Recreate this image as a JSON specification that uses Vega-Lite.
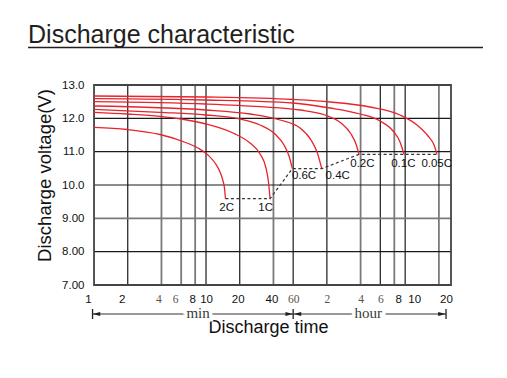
{
  "$schema": "https://vega.github.io/schema/vega-lite/v6.json",
  "width": 507,
  "height": 378,
  "autosize": {"type": "none"},
  "padding": 0,
  "background": "white",
  "config": {"view": {"stroke": null}, "font": "Liberation Sans"},
  "datasets": {
    "xgrid": [{"t": 2}, {"t": 4}, {"t": 6}, {"t": 8}, {"t": 10}, {"t": 20}, {"t": 40}, {"t": 60}, {"t": 120}, {"t": 240}, {"t": 360}, {"t": 480}, {"t": 600}, {"t": 1200}],
    "ygrid": [{"v": 8}, {"v": 9}, {"v": 10}, {"v": 11}, {"v": 12}],
    "curves": [
      {"rate": "2C", "t": 1, "v": 11.73}, {"rate": "2C", "t": 1.97, "v": 11.665}, {"rate": "2C", "t": 3.88, "v": 11.515}, {"rate": "2C", "t": 6.23, "v": 11.305}, {"rate": "2C", "t": 8.48, "v": 11.11}, {"rate": "2C", "t": 10.42, "v": 10.9}, {"rate": "2C", "t": 12.03, "v": 10.66}, {"rate": "2C", "t": 13.34, "v": 10.39}, {"rate": "2C", "t": 14.18, "v": 10.12}, {"rate": "2C", "t": 14.69, "v": 9.85}, {"rate": "2C", "t": 14.9, "v": 9.59},
      {"rate": "1C", "t": 1, "v": 12.18}, {"rate": "1C", "t": 1.97, "v": 12.13}, {"rate": "1C", "t": 3.88, "v": 12.06}, {"rate": "1C", "t": 5.98, "v": 11.98}, {"rate": "1C", "t": 10, "v": 11.83}, {"rate": "1C", "t": 17.4, "v": 11.56}, {"rate": "1C", "t": 24.7, "v": 11.26}, {"rate": "1C", "t": 30.4, "v": 10.93}, {"rate": "1C", "t": 34.3, "v": 10.51}, {"rate": "1C", "t": 36.1, "v": 10.09}, {"rate": "1C", "t": 37.3, "v": 9.59},
      {"rate": "0.6C", "t": 1, "v": 12.27}, {"rate": "0.6C", "t": 3.88, "v": 12.18}, {"rate": "0.6C", "t": 10, "v": 12.1}, {"rate": "0.6C", "t": 20.1, "v": 11.98}, {"rate": "0.6C", "t": 30.4, "v": 11.8}, {"rate": "0.6C", "t": 41.3, "v": 11.53}, {"rate": "0.6C", "t": 49.7, "v": 11.2}, {"rate": "0.6C", "t": 55.1, "v": 10.87}, {"rate": "0.6C", "t": 59, "v": 10.49},
      {"rate": "0.4C", "t": 1, "v": 12.37}, {"rate": "0.4C", "t": 10, "v": 12.25}, {"rate": "0.4C", "t": 24.7, "v": 12.13}, {"rate": "0.4C", "t": 45.8, "v": 11.95}, {"rate": "0.4C", "t": 69.1, "v": 11.71}, {"rate": "0.4C", "t": 86.6, "v": 11.35}, {"rate": "0.4C", "t": 98, "v": 10.99}, {"rate": "0.4C", "t": 108, "v": 10.49},
      {"rate": "0.2C", "t": 1, "v": 12.5}, {"rate": "0.2C", "t": 10, "v": 12.43}, {"rate": "0.2C", "t": 30.4, "v": 12.35}, {"rate": "0.2C", "t": 69.1, "v": 12.25}, {"rate": "0.2C", "t": 115.5, "v": 12.1}, {"rate": "0.2C", "t": 160.4, "v": 11.86}, {"rate": "0.2C", "t": 197, "v": 11.53}, {"rate": "0.2C", "t": 218.4, "v": 11.23}, {"rate": "0.2C", "t": 232.4, "v": 10.92},
      {"rate": "0.1C", "t": 1, "v": 12.59}, {"rate": "0.1C", "t": 10, "v": 12.55}, {"rate": "0.1C", "t": 59.8, "v": 12.46}, {"rate": "0.1C", "t": 128, "v": 12.31}, {"rate": "0.1C", "t": 237, "v": 12.13}, {"rate": "0.1C", "t": 357.8, "v": 11.92}, {"rate": "0.1C", "t": 467.6, "v": 11.62}, {"rate": "0.1C", "t": 539.8, "v": 11.29}, {"rate": "0.1C", "t": 586, "v": 10.92},
      {"rate": "0.05C", "t": 1, "v": 12.67}, {"rate": "0.05C", "t": 10, "v": 12.64}, {"rate": "0.05C", "t": 59.8, "v": 12.565}, {"rate": "0.05C", "t": 128, "v": 12.49}, {"rate": "0.05C", "t": 291, "v": 12.34}, {"rate": "0.05C", "t": 539.8, "v": 12.1}, {"rate": "0.05C", "t": 765.5, "v": 11.8}, {"rate": "0.05C", "t": 959.6, "v": 11.47}, {"rate": "0.05C", "t": 1086, "v": 11.2}, {"rate": "0.05C", "t": 1155, "v": 10.92}
    ],
    "knee": [
      {"t": 14.9, "v": 9.59}, {"t": 37.3, "v": 9.59}, {"t": 59, "v": 10.49}, {"t": 108, "v": 10.49}, {"t": 232.4, "v": 10.92}, {"t": 1155, "v": 10.92}
    ],
    "labels": [
      {"rate": "2C", "t": 15.3, "v": 9.32}, {"rate": "1C", "t": 34.1, "v": 9.32}, {"rate": "0.6C", "t": 75, "v": 10.27}, {"rate": "0.4C", "t": 150, "v": 10.27}, {"rate": "0.2C", "t": 249, "v": 10.62}, {"rate": "0.1C", "t": 578, "v": 10.62}, {"rate": "0.05C", "t": 1148, "v": 10.62}
    ]
  },
  "layer": [
    {
      "data": {"name": "xgrid"},
      "mark": {"type": "rule"},
      "encoding": {
        "x": {"field": "t", "type": "quantitative", "scale": {"type": "log", "domain": [0.1447, 4869], "nice": false, "zero": false}},
        "y": {"datum": 7, "type": "quantitative", "scale": {"domain": [4.21, 15.55], "nice": false, "zero": false}},
        "y2": {"datum": 13},
        "color": {"condition": {"test": "indexof([4,6,8,40,240,480,1200], datum.t) >= 0", "value": "#7a7a7a"}, "value": "#1a1a1a"},
        "strokeWidth": {"condition": {"test": "indexof([4,6,8,40,240,480,1200], datum.t) >= 0", "value": 1.8}, "value": 1.2}
      }
    },
    {
      "data": {"name": "ygrid"},
      "mark": {"type": "rule"},
      "encoding": {
        "y": {"field": "v", "type": "quantitative", "scale": {"domain": [4.21, 15.55], "nice": false, "zero": false}},
        "x": {"datum": 1, "type": "quantitative", "scale": {"type": "log", "domain": [0.1447, 4869], "nice": false, "zero": false}},
        "x2": {"datum": 1540},
        "color": {"condition": {"test": "datum.v == 9", "value": "#7a7a7a"}, "value": "#1a1a1a"},
        "strokeWidth": {"condition": {"test": "datum.v == 9", "value": 1.8}, "value": 1.2}
      }
    },
    {
      "data": {"values": [{}]},
      "mark": {"type": "rect", "fill": "white", "fillOpacity": 0, "stroke": "#444444", "strokeWidth": 1.8},
      "encoding": {
        "x": {"datum": 1, "type": "quantitative", "scale": {"type": "log", "domain": [0.1447, 4869], "nice": false, "zero": false}},
        "x2": {"datum": 1540},
        "y": {"datum": 7, "type": "quantitative", "scale": {"domain": [4.21, 15.55], "nice": false, "zero": false}},
        "y2": {"datum": 13}
      }
    },
    {
      "data": {"name": "curves"},
      "mark": {"type": "line", "color": "#e8232b", "strokeWidth": 1.3, "interpolate": "monotone"},
      "encoding": {
        "x": {
          "field": "t", "type": "quantitative",
          "scale": {"type": "log", "domain": [0.1447, 4869], "nice": false, "zero": false},
          "axis": {
            "orient": "bottom", "offset": -93,
            "title": "Discharge time",
            "values": [1, 2, 4, 6, 8, 10, 20, 40, 60, 120, 240, 360, 480, 600, 1200],
            "labelExpr": "datum.value >= 120 ? format(datum.value/60,'d') : format(datum.value,'d')",
            "labelFont": {"condition": {"test": "indexof([4,6,60,120,240,360], datum.value) >= 0", "value": "Liberation Serif"}, "value": "Liberation Sans"},
            "labelColor": {"condition": {"test": "indexof([4,6,60,120,240,360], datum.value) >= 0", "value": "#5a5048"}, "value": "#111111"},
            "labelOffset": {"condition": [
              {"test": "datum.value <= 2", "value": -6},
              {"test": "datum.value == 4 || datum.value == 8", "value": -3},
              {"test": "datum.value == 6", "value": -6},
              {"test": "datum.value == 20 || datum.value == 40", "value": -2},
              {"test": "datum.value == 480", "value": 4},
              {"test": "datum.value == 600", "value": 9},
              {"test": "datum.value == 1200", "value": 7}
            ], "value": 0},
            "labelFontSize": 11.5, "labelPadding": 8, "labelFlush": false, "labelOverlap": false, "labelBound": false,
            "ticks": false, "tickSize": 0, "domain": false, "grid": false,
            "titleFont": "Liberation Sans", "titleFontSize": 18, "titleFontWeight": "normal", "titleColor": "#111111",
            "titleX": 268, "titleY": 47, "titleBaseline": "alphabetic", "titleAlign": "center"
          }
        },
        "y": {
          "field": "v", "type": "quantitative",
          "scale": {"domain": [4.21, 15.55], "nice": false, "zero": false},
          "axis": {
            "orient": "left", "offset": -94,
            "title": "Discharge voltage(V)",
            "values": [7, 8, 9, 10, 11, 12, 13],
            "labelExpr": "datum.value >= 10 ? format(datum.value,'.1f') : format(datum.value,'.2f')",
            "labelFontSize": 11.5, "labelColor": "#111111", "labelPadding": 10, "labelFlush": false, "labelBound": false,
            "ticks": false, "tickSize": 0, "domain": false, "grid": false,
            "titleFont": "Liberation Sans", "titleFontSize": 18.5, "titleFontWeight": "normal", "titleColor": "#111111",
            "titleAngle": -90, "titleX": -44, "titleY": 175, "titleAlign": "center", "titleBaseline": "alphabetic"
          }
        },
        "detail": {"field": "rate"},
        "order": {"field": "t", "type": "quantitative"}
      }
    },
    {
      "data": {"name": "knee"},
      "mark": {"type": "line", "color": "#333333", "strokeWidth": 1.2, "strokeDash": [3, 2.5]},
      "encoding": {
        "x": {"field": "t", "type": "quantitative", "scale": {"type": "log", "domain": [0.1447, 4869], "nice": false, "zero": false}},
        "y": {"field": "v", "type": "quantitative", "scale": {"domain": [4.21, 15.55], "nice": false, "zero": false}}
      }
    },
    {
      "data": {"name": "labels"},
      "mark": {"type": "text", "fontSize": 11.5, "color": "#111111", "baseline": "middle", "align": "center", "font": "Liberation Sans"},
      "encoding": {
        "x": {"field": "t", "type": "quantitative", "scale": {"type": "log", "domain": [0.1447, 4869], "nice": false, "zero": false}},
        "y": {"field": "v", "type": "quantitative", "scale": {"domain": [4.21, 15.55], "nice": false, "zero": false}},
        "text": {"field": "rate"}
      }
    },
    {
      "data": {"values": [{}]},
      "mark": {"type": "text", "font": "Liberation Sans", "fontSize": 25, "color": "#231f20", "align": "left", "baseline": "alphabetic"},
      "encoding": {"x": {"datum": 0.2575, "type": "quantitative"}, "y": {"datum": 14.26, "type": "quantitative"}, "text": {"value": "Discharge characteristic"}}
    },
    {
      "data": {"values": [{}]},
      "mark": {"type": "rule", "color": "#231f20", "strokeWidth": 1.4},
      "encoding": {"x": {"datum": 0.2575, "type": "quantitative"}, "x2": {"datum": 2973}, "y": {"datum": 14.125, "type": "quantitative"}}
    },
    {
      "data": {"values": [{}]},
      "mark": {"type": "rule", "color": "#333333", "strokeWidth": 1},
      "encoding": {"x": {"datum": 0.97, "type": "quantitative"}, "x2": {"datum": 60}, "y": {"datum": 6.13, "type": "quantitative"}}
    },
    {
      "data": {"values": [{}]},
      "mark": {"type": "rule", "color": "#333333", "strokeWidth": 1},
      "encoding": {"x": {"datum": 60, "type": "quantitative"}, "x2": {"datum": 1390}, "y": {"datum": 6.13, "type": "quantitative"}}
    },
    {
      "data": {"values": [{}]},
      "mark": {"type": "rule", "color": "#222222", "strokeWidth": 1.3},
      "encoding": {"x": {"datum": 0.97, "type": "quantitative"}, "y": {"datum": 5.98, "type": "quantitative"}, "y2": {"datum": 6.28}}
    },
    {
      "data": {"values": [{}]},
      "mark": {"type": "rule", "color": "#222222", "strokeWidth": 1.3},
      "encoding": {"x": {"datum": 60, "type": "quantitative"}, "y": {"datum": 5.98, "type": "quantitative"}, "y2": {"datum": 6.28}}
    },
    {
      "data": {"values": [{}]},
      "mark": {"type": "rule", "color": "#222222", "strokeWidth": 1.3},
      "encoding": {"x": {"datum": 1390, "type": "quantitative"}, "y": {"datum": 5.98, "type": "quantitative"}, "y2": {"datum": 6.28}}
    },
    {
      "data": {"values": [{}]},
      "mark": {"type": "point", "filled": true, "color": "#222222", "size": 60, "opacity": 1},
      "encoding": {"x": {"datum": 1.05, "type": "quantitative"}, "y": {"datum": 6.13, "type": "quantitative"}, "shape": {"value": "M-1,0L1,-0.5L1,0.5Z"}}
    },
    {
      "data": {"values": [{}]},
      "mark": {"type": "point", "filled": true, "color": "#222222", "size": 60, "opacity": 1},
      "encoding": {"x": {"datum": 55.4, "type": "quantitative"}, "y": {"datum": 6.13, "type": "quantitative"}, "shape": {"value": "M1,0L-1,-0.5L-1,0.5Z"}}
    },
    {
      "data": {"values": [{}]},
      "mark": {"type": "point", "filled": true, "color": "#222222", "size": 60, "opacity": 1},
      "encoding": {"x": {"datum": 65.4, "type": "quantitative"}, "y": {"datum": 6.13, "type": "quantitative"}, "shape": {"value": "M-1,0L1,-0.5L1,0.5Z"}}
    },
    {
      "data": {"values": [{}]},
      "mark": {"type": "point", "filled": true, "color": "#222222", "size": 60, "opacity": 1},
      "encoding": {"x": {"datum": 1280, "type": "quantitative"}, "y": {"datum": 6.13, "type": "quantitative"}, "shape": {"value": "M1,0L-1,-0.5L-1,0.5Z"}}
    },
    {
      "data": {"values": [{}]},
      "mark": {"type": "text", "font": "Liberation Serif", "fontSize": 15, "color": "white", "stroke": "white", "strokeWidth": 7, "baseline": "alphabetic", "align": "center"},
      "encoding": {"x": {"datum": 8.5, "type": "quantitative"}, "y": {"datum": 6.0, "type": "quantitative"}, "text": {"value": "min"}}
    },
    {
      "data": {"values": [{}]},
      "mark": {"type": "text", "font": "Liberation Serif", "fontSize": 15, "color": "white", "stroke": "white", "strokeWidth": 7, "baseline": "alphabetic", "align": "center"},
      "encoding": {"x": {"datum": 281, "type": "quantitative"}, "y": {"datum": 6.0, "type": "quantitative"}, "text": {"value": "hour"}}
    },
    {
      "data": {"values": [{}]},
      "mark": {"type": "text", "font": "Liberation Serif", "fontSize": 15, "color": "#3a3a3a", "baseline": "alphabetic", "align": "center"},
      "encoding": {"x": {"datum": 8.5, "type": "quantitative"}, "y": {"datum": 6.0, "type": "quantitative"}, "text": {"value": "min"}}
    },
    {
      "data": {"values": [{}]},
      "mark": {"type": "text", "font": "Liberation Serif", "fontSize": 15, "color": "#3a3a3a", "baseline": "alphabetic", "align": "center"},
      "encoding": {"x": {"datum": 281, "type": "quantitative"}, "y": {"datum": 6.0, "type": "quantitative"}, "text": {"value": "hour"}}
    }
  ]
}
